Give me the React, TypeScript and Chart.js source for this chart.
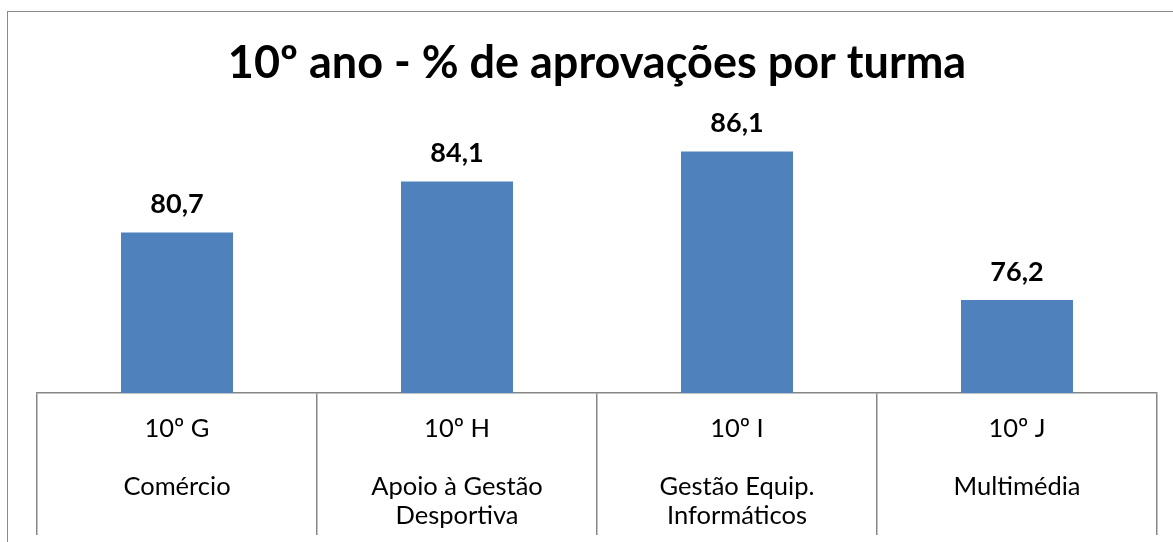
import React, { useEffect, useRef } from "react";
import { Chart, registerables } from "chart.js";

Chart.register(...registerables);

const TITLE = "10º ano - % de aprovações por turma";
const classes = ["10º G", "10º H", "10º I", "10º J"];
const courses = [["Comércio"], ["Apoio à Gestão", "Desportiva"], ["Gestão Equip.", "Informáticos"], ["Multimédia"]];
const approvals = [80.7, 84.1, 86.1, 76.2];
const Y_MIN = 70;
const Y_MAX = 90;

const FONT = "Lato, 'Open Sans', sans-serif";

const valueLabels = {
  id: "valueLabels",
  afterDatasetsDraw(chart: any) {
    const ctx = chart.ctx;
    const meta = chart.getDatasetMeta(0);
    ctx.save();
    ctx.font = `bold 27px ${FONT}`;
    ctx.fillStyle = "#000000";
    ctx.textAlign = "center";
    ctx.textBaseline = "middle";
    meta.data.forEach((bar: any, i: number) => {
      const v = chart.data.datasets[0].data[i] as number;
      ctx.fillText(v.toFixed(1).replace(".", ","), bar.x, bar.y - 28);
    });
    ctx.restore();
  },
};

export default function App() {
  const ref = useRef<HTMLCanvasElement | null>(null);

  useEffect(() => {
    if (!ref.current) return;
    const labels = classes.map((c, i) => [c, "", ...courses[i]]);
    const chart = new Chart(ref.current, {
      type: "bar",
      data: {
        labels,
        datasets: [
          {
            data: approvals,
            backgroundColor: "#4F81BD",
            borderWidth: 0,
            barPercentage: 1,
            categoryPercentage: 0.4,
          },
        ],
      },
      options: {
        animation: false,
        responsive: false,
        devicePixelRatio: 1,
        layout: { padding: { left: 37, right: 16, top: 0, bottom: 0 } },
        plugins: {
          legend: { display: false },
          tooltip: { enabled: false },
          title: {
            display: true,
            text: TITLE,
            color: "#000000",
            font: { family: FONT, size: 45, weight: "bold", lineHeight: 1.2 },
            padding: { top: 36, bottom: 3 },
          },
        },
        scales: {
          x: {
            afterFit(scale: any) {
              scale.height = 149;
            },
            grid: {
              display: true,
              drawOnChartArea: false,
              drawTicks: true,
              tickLength: 142,
              color: "#868686",
              lineWidth: 1.5,
              offset: true,
            },
            border: { display: true, color: "#868686", width: 1.5 },
            ticks: {
              color: "#000000",
              font: { family: FONT, size: 25.5, lineHeight: "29px" },
              padding: -120.5,
              autoSkip: false,
              maxRotation: 0,
              minRotation: 0,
            },
          },
          y: {
            display: false,
            min: Y_MIN,
            max: Y_MAX,
          },
        },
      },
      plugins: [valueLabels],
    });
    return () => chart.destroy();
  }, []);

  return (
    <div style={{ position: "fixed", left: 0, top: 0, width: 1173, height: 542, overflow: "hidden", background: "#ffffff" }}>
      <div
        style={{
          position: "absolute",
          left: 7,
          top: 11,
          width: 1300,
          height: 700,
          borderLeft: "1.5px solid #8a8a8a",
          borderTop: "1.5px solid #8a8a8a",
        }}
      />
      <canvas ref={ref} width={1173} height={542} style={{ position: "absolute", left: 0, top: 0 }} />
    </div>
  );
}
